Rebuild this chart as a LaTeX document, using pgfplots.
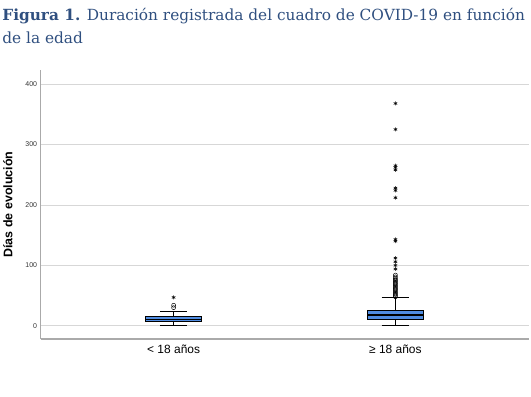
\documentclass[border=0pt]{standalone}
\usepackage{fontspec}
\setmainfont{Liberation Sans}
\newfontfamily\titlefont{DejaVu Serif}
\usepackage{pgfplots}
\pgfplotsset{compat=1.18}
\definecolor{titleblue}{RGB}{47,79,127}
\definecolor{boxblue}{RGB}{80,140,225}
\definecolor{gridgray}{RGB}{215,215,215}
\definecolor{axisgray}{RGB}{170,170,170}
\begin{document}
\begin{tikzpicture}
\path (0pt,0pt) rectangle (531pt,398pt);
\node[anchor=base west,inner sep=0pt,text=titleblue,font=\titlefont\fontsize{15.4}{18}\selectfont] at (0pt,377pt) {\textbf{Figura 1.} Duración registrada del cuadro de COVID-19 en función};
\node[anchor=base west,inner sep=0pt,text=titleblue,font=\titlefont\fontsize{15.4}{18}\selectfont] at (0pt,354pt) {de la edad};
\begin{axis}[
  at={(38.5pt,57.5pt)}, anchor=south west,
  width=490pt, height=270pt, scale only axis,
  xmin=0.4, xmax=2.6, ymin=-22, ymax=423,
  axis x line*=bottom, axis y line*=left,
  axis line style={axisgray, line width=1.2pt},
  xtick={1,2}, xticklabels={< 18 años, ≥ 18 años},
  ytick={0,100,200,300,400},
  major tick length=0pt,
  ymajorgrids, grid style={gridgray, line width=0.9pt},
  yticklabel style={font=\fontsize{7}{8}\selectfont, text=black!80},
  xticklabel style={font=\fontsize{12}{14}\selectfont, yshift=-2pt},
  ylabel={\textbf{Días de evolución}},
  ylabel style={font=\fontsize{12.5}{14}\selectfont, yshift=6pt},
  /pgf/number format/assume math mode=true,
  clip=false,
]
% group 1: < 18 años  (whiskers 0.5 / 23.5, box 6.6-14.8, median 10.5)
\addplot[black, line width=0.7pt] coordinates {(1,14.8) (1,23.5)};
\addplot[black, line width=0.7pt] coordinates {(1,6.6) (1,0.5)};
\addplot[black, line width=1pt] coordinates {(0.938,23.5) (1.062,23.5)};
\addplot[black, line width=1pt] coordinates {(0.938,0.5) (1.062,0.5)};
\addplot[fill=boxblue, draw=black, line width=0.8pt] coordinates {(0.875,6.6) (1.125,6.6) (1.125,14.8) (0.875,14.8)} -- cycle;
\addplot[black, line width=1.6pt] coordinates {(0.875,10.5) (1.125,10.5)};
% group 2: >= 18 años (whiskers 0 / 46.5, box 10.4-25.2, median 17.5)
\addplot[black, line width=0.7pt] coordinates {(2,25.2) (2,46.5)};
\addplot[black, line width=0.7pt] coordinates {(2,10.4) (2,0)};
\addplot[black, line width=1pt] coordinates {(1.938,46.5) (2.062,46.5)};
\addplot[black, line width=1pt] coordinates {(1.938,0) (2.062,0)};
\addplot[fill=boxblue, draw=black, line width=0.8pt] coordinates {(1.875,10.4) (2.125,10.4) (2.125,25.2) (1.875,25.2)} -- cycle;
\addplot[black, line width=1.6pt] coordinates {(1.875,17.5) (2.125,17.5)};
% mild outliers (circles)
\addplot[only marks, mark=o, mark size=2pt, black, line width=0.5pt] coordinates {
(1,30) (1,34)
(2,48) (2,50) (2,52) (2,54) (2,56) (2,58) (2,60) (2,62) (2,64) (2,66) (2,68) (2,70) (2,72) (2,74) (2,76) (2,78) (2,81) (2,84)
};
% extreme outliers (stars)
\addplot[only marks, mark=asterisk, mark size=2pt, black, line width=0.6pt] coordinates {
(1,47)
(2,94) (2,100) (2,106) (2,112) (2,140) (2,143) (2,212) (2,224) (2,228) (2,258) (2,262) (2,265) (2,325) (2,368)
};
\end{axis}
\end{tikzpicture}
\end{document}
